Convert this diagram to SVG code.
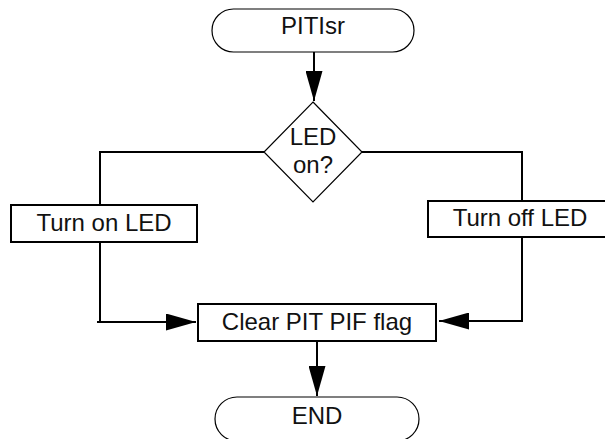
<svg xmlns="http://www.w3.org/2000/svg" width="605" height="439" viewBox="0 0 605 439">
<style>
.term{fill:#fff;stroke:#000;stroke-width:1.2}
.box{fill:#fff;stroke:#000;stroke-width:2}
.dia{fill:#fff;stroke:#000;stroke-width:1.2}
.lbl{font-family:"Liberation Sans",Arial,sans-serif;font-size:24px;fill:#111;text-anchor:middle}
.wire{fill:none;stroke:#000;stroke-width:2}
</style>
<defs>
<marker id="arr" markerUnits="userSpaceOnUse" markerWidth="30" markerHeight="17" refX="30" refY="8.5" orient="auto">
<path d="M0,0 L30,8.5 L0,17 Z" fill="#000"/>
</marker>
</defs>
<g id="connectors">
<path class="wire" d="M314,52 V101" marker-end="url(#arr)"/>
<path class="wire" d="M264,152 H100 V205"/>
<path class="wire" d="M362,152 H522 V201"/>
<path class="wire" d="M100,242 V322 H97 M100,322 H196" marker-end="url(#arr)"/>
<path class="wire" d="M522,237 V321 H439" marker-end="url(#arr)"/>
<path class="wire" d="M317,341 V396" marker-end="url(#arr)"/>
</g>
<g id="start">
<rect class="term" x="212" y="9" width="202" height="43" rx="21.5"/>
<text class="lbl" x="313" y="34">PITIsr</text>
</g>
<g id="decision">
<polygon class="dia" points="313,102 362,152 313,202 264,152"/>
<text class="lbl" x="313" y="145">LED</text>
<text class="lbl" x="313" y="173">on?</text>
</g>
<g id="turnon">
<rect class="box" x="11" y="205" width="186" height="37"/>
<text class="lbl" x="104" y="231">Turn on LED</text>
</g>
<g id="turnoff">
<rect class="box" x="428" y="201" width="180" height="36"/>
<text class="lbl" x="520" y="226">Turn off LED</text>
</g>
<g id="clear">
<rect class="box" x="198" y="304" width="238" height="37"/>
<text class="lbl" x="317" y="330">Clear PIT PIF flag</text>
</g>
<g id="end">
<rect class="term" x="215" y="397" width="204" height="44" rx="22"/>
<text class="lbl" x="317" y="424">END</text>
</g>
</svg>
